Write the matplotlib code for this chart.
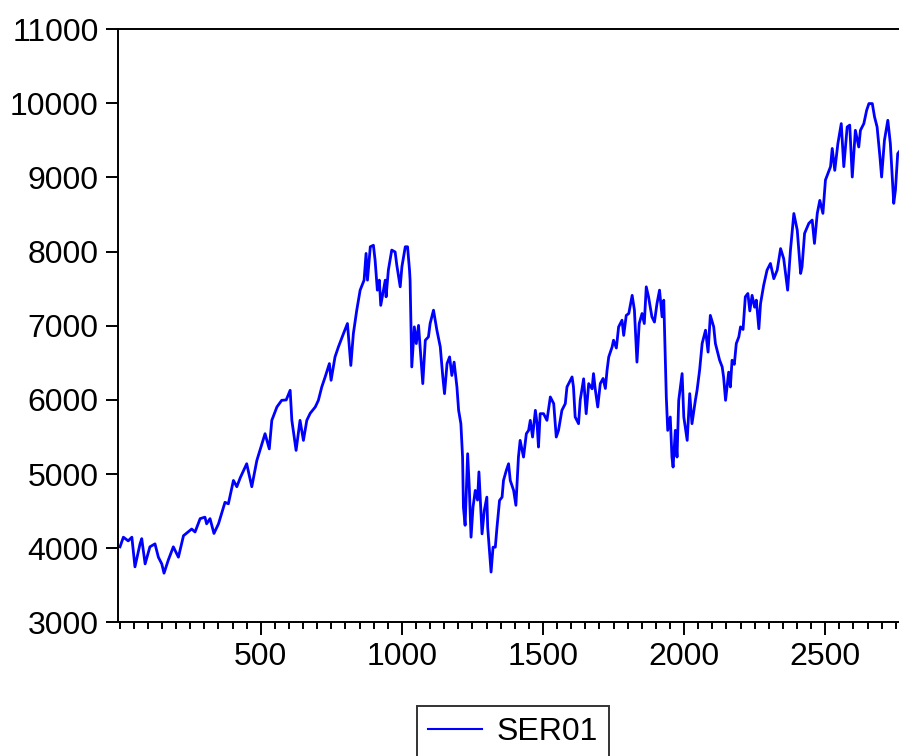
import matplotlib
matplotlib.use("Agg")
import matplotlib.pyplot as plt
from matplotlib.ticker import MultipleLocator

plt.rcParams['font.family'] = ['Liberation Sans', 'DejaVu Sans']

obs = [1, 13, 30, 43, 54, 72, 78, 90, 107, 125, 137, 149, 157, 172, 190, 208, 226,
       255, 267, 285, 302, 308, 320, 334, 350, 373, 385, 403, 415, 427, 450, 468,
       486, 515, 530, 539, 557, 574, 590, 604, 610, 625, 639, 651, 663, 675, 693,
       704, 716, 728, 743, 749, 763, 775, 793, 807, 819, 828, 840, 852, 866, 873,
       878, 888, 899, 905, 913, 920, 925, 941, 944, 952, 964, 976, 982, 994, 1000,
       1012, 1020, 1027, 1029, 1035, 1044, 1051, 1059, 1067, 1074, 1083, 1094,
       1100, 1112, 1124, 1136, 1145, 1151, 1160, 1169, 1177, 1185, 1195, 1201,
       1209, 1215, 1218, 1224, 1233, 1239, 1245, 1252, 1260, 1268, 1273, 1284,
       1292, 1301, 1304, 1311, 1316, 1323, 1331, 1337, 1346, 1355, 1360, 1370,
       1378, 1384, 1396, 1404, 1413, 1419, 1431, 1441, 1449, 1455, 1463, 1473,
       1479, 1484, 1490, 1502, 1514, 1526, 1538, 1547, 1555, 1567, 1579, 1585,
       1603, 1608, 1614, 1626, 1632, 1644, 1653, 1662, 1674, 1679, 1685, 1694,
       1703, 1713, 1721, 1727, 1733, 1745, 1750, 1760, 1768, 1780, 1786, 1795,
       1804, 1816, 1824, 1833, 1841, 1851, 1859, 1866, 1874, 1886, 1895, 1904,
       1913, 1922, 1928, 1937, 1942, 1951, 1957, 1961, 1969, 1975, 1981, 1993,
       1999, 2011, 2020, 2028, 2040, 2046, 2055, 2064, 2076, 2085, 2093, 2105,
       2111, 2126, 2135, 2140, 2147, 2158, 2164, 2170, 2178, 2185, 2194, 2200,
       2209, 2217, 2226, 2233, 2241, 2250, 2256, 2265, 2271, 2282, 2294, 2306,
       2318, 2330, 2342, 2353, 2367, 2377, 2389, 2401, 2413, 2418, 2427, 2442,
       2454, 2462, 2472, 2481, 2492, 2501, 2519, 2525, 2534, 2545, 2557, 2566,
       2578, 2587, 2596, 2607, 2619, 2625, 2637, 2647, 2655, 2667, 2675, 2684,
       2694, 2700, 2710, 2722, 2731, 2743, 2749, 2757, 2766]
ser01 = [4020, 4150, 4100, 4150, 3750, 4060, 4130, 3790, 4020, 4060, 3880, 3790, 3665,
         3840, 4020, 3880, 4170, 4260, 4220, 4400, 4420, 4330, 4400, 4200, 4330,
         4620, 4600, 4915, 4830, 4950, 5140, 4830, 5185, 5545, 5340, 5725, 5905,
         5995, 6000, 6130, 5725, 5320, 5725, 5455, 5725, 5820, 5905, 5995, 6175,
         6310, 6490, 6265, 6580, 6715, 6895, 7030, 6465, 6895, 7210, 7480, 7615,
         7975, 7615, 8065, 8085, 7885, 7480, 7615, 7275, 7615, 7390, 7750, 8020,
         7995, 7815, 7525, 7795, 8065, 8065, 7750, 7615, 6445, 6985, 6760, 7005,
         6580, 6220, 6805, 6850, 7030, 7210, 6940, 6715, 6310, 6085, 6490, 6580,
         6330, 6510, 6175, 5860, 5680, 5230, 4555, 4310, 5275, 4800, 4150, 4555,
         4780, 4650, 5030, 4195, 4510, 4690, 4285, 3925, 3680, 4015, 4015, 4285,
         4645, 4690, 4915, 5050, 5140, 4915, 4780, 4580, 5230, 5455, 5230, 5545,
         5590, 5725, 5500, 5860, 5680, 5365, 5815, 5815, 5725, 6040, 5950, 5500,
         5590, 5860, 5950, 6175, 6310, 6175, 5770, 5680, 6000, 6285, 5815, 6220,
         6150, 6355, 6150, 5905, 6220, 6290, 6155, 6400, 6580, 6715, 6805, 6700,
         6985, 7075, 6870, 7140, 7165, 7410, 7210, 6510, 7030, 7165, 7030, 7525,
         7390, 7120, 7050, 7300, 7480, 7120, 7345, 6040, 5590, 5770, 5230, 5095,
         5590, 5230, 5995, 6355, 5770, 5455, 6085, 5680, 5995, 6130, 6400, 6760,
         6940, 6645, 7140, 6985, 6760, 6535, 6445, 6310, 5995, 6375, 6175, 6535,
         6480, 6760, 6850, 6985, 6950, 7390, 7435, 7200, 7410, 7250, 7345, 6960,
         7300, 7545, 7750, 7840, 7635, 7750, 8040, 7905, 7480, 8020, 8513, 8290,
         7705, 7795, 8245, 8380, 8425, 8110, 8515, 8690, 8515, 8965, 9145, 9390,
         9095, 9455, 9725, 9145, 9680, 9705, 9005, 9635, 9410, 9635, 9725, 9905,
         9995, 9995, 9815, 9680, 9280, 9005, 9500, 9770, 9455, 8650, 8830, 9320,
         9365]

fig = plt.figure(figsize=(8.99, 7.56), dpi=100)
ax = fig.add_axes([0.1316, 0.1766, 0.8704, 0.785])

ax.plot(obs, ser01, color='#0000ff', linewidth=2.0, label='SER01')

ax.set_xlim(-5, 2768)
ax.set_ylim(3000, 11000)
ax.set_yticks(range(3000, 11001, 1000))
ax.set_xticks([500, 1000, 1500, 2000, 2500])
ax.xaxis.set_minor_locator(MultipleLocator(50))

ax.spines['right'].set_visible(False)
for s in ax.spines.values():
    s.set_linewidth(1.4)
ax.tick_params(axis='both', which='major', direction='out', length=9,
               width=1.4, labelsize=23, pad=5)
ax.tick_params(axis='x', which='minor', direction='out', length=5, width=1.4)

leg = fig.legend(loc='upper center', bbox_to_anchor=(513 / 899, 1 - 706 / 756),
                 fontsize=23, frameon=True, fancybox=False, edgecolor='black',
                 handlelength=1.7, handletextpad=0.45, borderpad=0.35,
                 borderaxespad=0)
leg.get_frame().set_linewidth(1.4)
leg.get_lines()[0].set_linewidth(1.5)

plt.savefig("out.png", dpi=100)
